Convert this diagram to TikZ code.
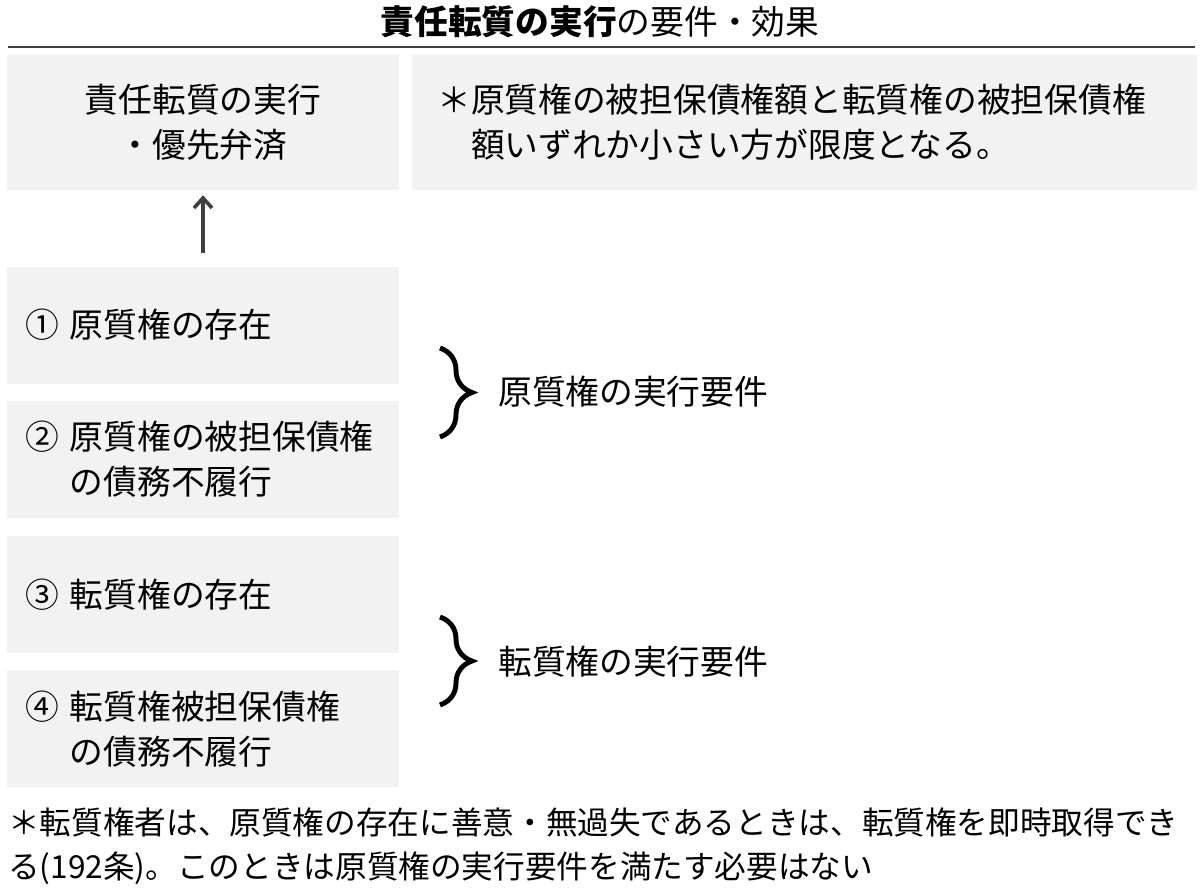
\documentclass[tikz,border=0pt]{standalone}
\usepackage{fontspec}
\setmainfont{Noto Sans CJK JP}
\usetikzlibrary{positioning,decorations.pathreplacing,arrows.meta}
\definecolor{boxgray}{RGB}{242,242,242}
\definecolor{inkgray}{RGB}{64,64,64}
\begin{document}
\begin{tikzpicture}[node distance=0.425cm,
    font=\fontsize{24pt}{32pt}\selectfont,
    box/.style={fill=boxgray, inner sep=0pt, minimum width=9.8cm, minimum height=2.925cm, text width=8.9cm, align=left},
    note/.style={inner sep=0pt, anchor=west, align=left},
    curly/.style={decorate, decoration={brace, amplitude=0.8cm}, line width=3.5pt}]

    \useasboundingbox (0,0) rectangle (30,-22.2);

    % title and rule
    \node [inner sep=0pt] (title) at (15,-0.55) {\textbf{責任転質の実行}の要件・効果};
    \coordinate (ruleL) at (0.2,-1.175);
    \coordinate (ruleR) at (29.875,-1.175);
    \draw [inkgray, line width=1.2pt] (ruleL) -- (ruleR);

    % top row
    \node [box, minimum height=3.375cm, text width=9.8cm, align=center] (top) at (5.075,-3.0625) {責任転質の実行\\・優先弁済};
    \node [box, minimum height=3.375cm, minimum width=19.625cm, text width=18.375cm, anchor=west] (limit) at (10.3,-3.0625) {＊原質権の被担保債権額と転質権の被担保債権\\\phantom{＊}額いずれか小さい方が限度となる。};

    % requirement boxes
    \node [box] (c1) [below=1.9cm of top] {① 原質権の存在};
    \node [box] (c2) [below=of c1] {② 原質権の被担保債権\\\phantom{② }の債務不履行};
    \node [box] (c3) [below=of c2] {③ 転質権の存在};
    \node [box] (c4) [below=of c3] {④ 転質権被担保債権\\\phantom{④ }の債務不履行};

    \draw [inkgray, line width=2.6pt, -{Straight Barb[length=0.25cm, width=0.45cm]}, shorten >= 0.125cm, shorten <= 0.325cm] (c1) -- (top);

    % braces
    \coordinate (b1top) at (11.0,-8.7);
    \coordinate (b1bot) at (11.0,-10.925);
    \coordinate (b2top) at (11.0,-15.425);
    \coordinate (b2bot) at (11.0,-17.625);
    \draw [curly] (b1top) -- (b1bot);
    \draw [curly] (b2top) -- (b2bot);

    \node [note] (req1) at (12.45,-9.8) {原質権の実行要件};
    \node [note] (req2) at (12.45,-16.55) {転質権の実行要件};

    % footnote
    \node [note, font=\fontsize{22.5pt}{27pt}\selectfont] (foot) at (0.2,-21.15) {＊転質権者は、原質権の存在に善意・無過失であるときは、転質権を即時取得でき\\[0.15cm]る(192条)。このときは原質権の実行要件を満たす必要はない};

\end{tikzpicture}
\end{document}
